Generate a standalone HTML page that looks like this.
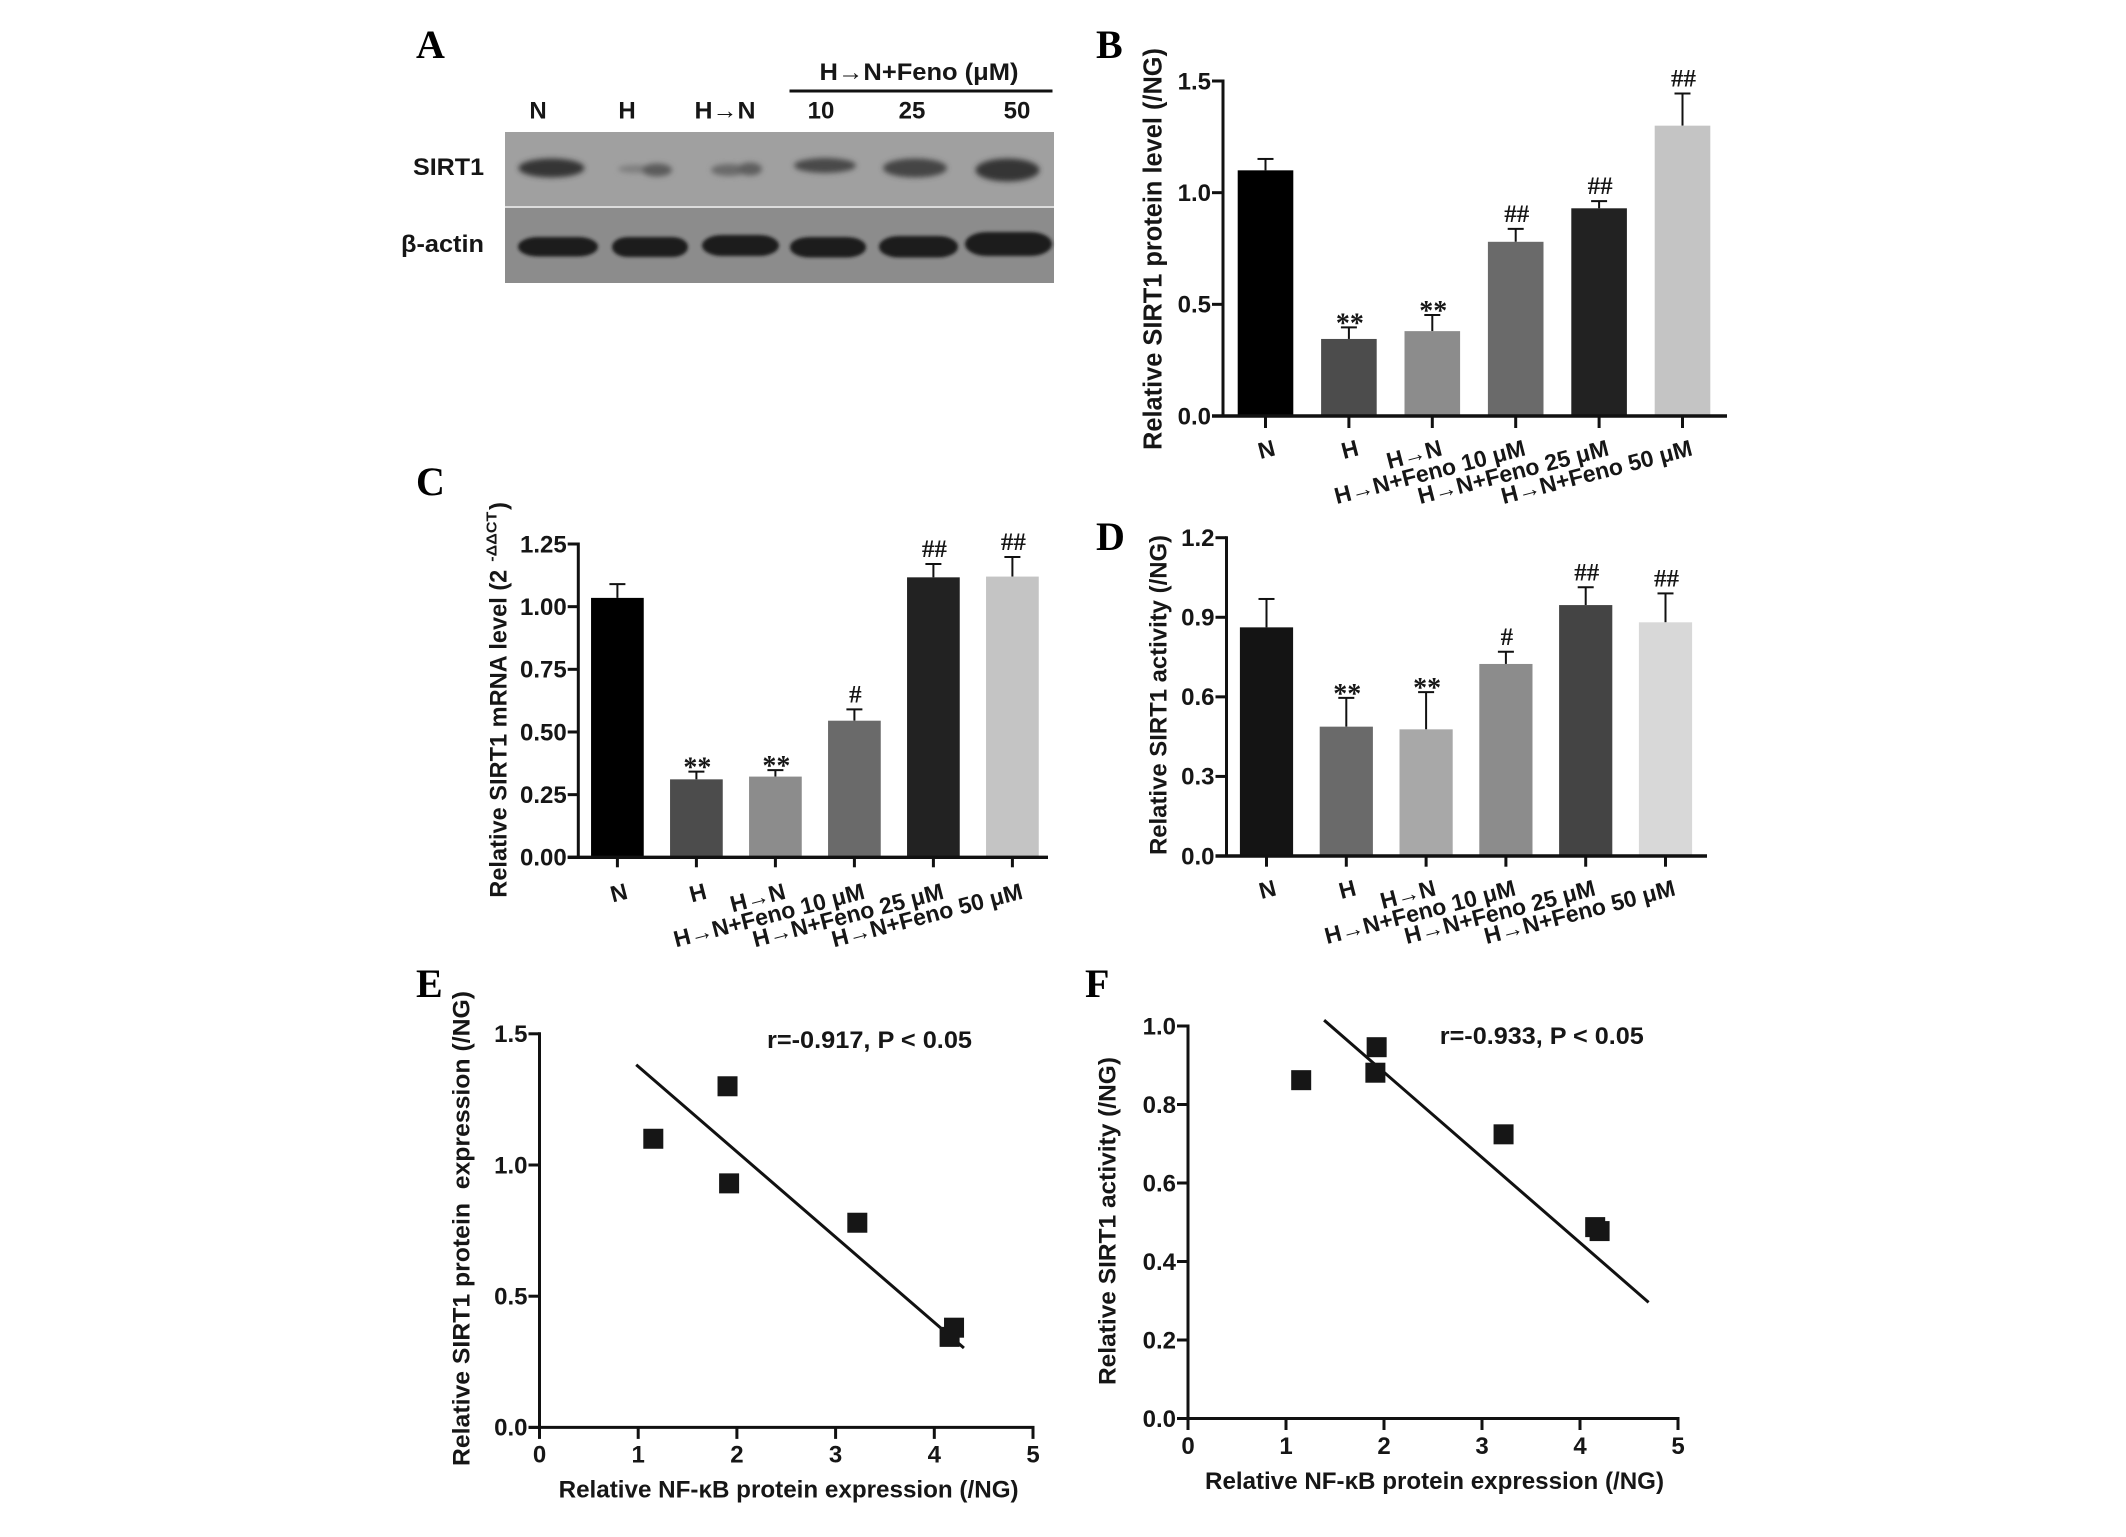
<!DOCTYPE html>
<html lang="en">
<head>
<meta charset="utf-8">
<title>SIRT1 expression and activity figure</title>
<style>
html,body{margin:0;padding:0;background:#fff;}
svg{display:block;}
text{font-family:"Liberation Sans",Arial,sans-serif;font-weight:bold;fill:#161616;white-space:pre;}
.serif{font-family:"Liberation Serif","Times New Roman",serif;}
.letter{font-family:"Liberation Serif","Times New Roman",serif;font-weight:bold;font-size:40px;fill:#000;}
</style>
</head>
<body>
<svg id="figure" xmlns="http://www.w3.org/2000/svg" width="2126" height="1537" viewBox="0 0 2126 1537">
  <defs>
    <filter id="soft" x="-30%" y="-60%" width="160%" height="220%"><feGaussianBlur stdDeviation="2.6"/></filter>
    <filter id="softer" x="-20%" y="-40%" width="140%" height="180%"><feGaussianBlur stdDeviation="1.5"/></filter>
  </defs>
  <rect x="0" y="0" width="2126" height="1537" fill="#fff"/>

  <text class="letter" x="416" y="58">A</text>
  <text class="letter" x="1096" y="58">B</text>
  <text class="letter" x="416" y="495">C</text>
  <text class="letter" x="1096" y="550">D</text>
  <text class="letter" x="416" y="997">E</text>
  <text class="letter" x="1085" y="997">F</text>

  <g>
    <text x="819.5" y="80" font-size="24" textLength="199" lengthAdjust="spacingAndGlyphs">H→N+Feno (μM)</text>
    <rect x="789.5" y="89.5" width="263" height="3" fill="#111"/>
    <text x="538" y="118.5" font-size="24" text-anchor="middle">N</text>
    <text x="627" y="118.5" font-size="24" text-anchor="middle">H</text>
    <text x="694.5" y="118.5" font-size="24" textLength="61" lengthAdjust="spacingAndGlyphs">H→N</text>
    <text x="821" y="118.5" font-size="24" text-anchor="middle">10</text>
    <text x="912" y="118.5" font-size="24" text-anchor="middle">25</text>
    <text x="1017" y="118.5" font-size="24" text-anchor="middle">50</text>
    <text x="413" y="175" font-size="24" textLength="71" lengthAdjust="spacingAndGlyphs">SIRT1</text>
    <text x="401" y="252" font-size="24" textLength="83" lengthAdjust="spacingAndGlyphs">β-actin</text>

    <rect x="505" y="132" width="549" height="74" fill="#a0a0a0"/>
    <rect x="505" y="208" width="549" height="75" fill="#8c8c8c"/>
    <rect x="505" y="206" width="549" height="2" fill="#dcdcdc"/>
    <g filter="url(#soft)">
      <ellipse cx="551.5" cy="168" rx="33" ry="9.5" fill="#363636"/>
      <ellipse cx="636" cy="169" rx="18" ry="4" fill="#7f7f7f"/>
      <ellipse cx="657" cy="170" rx="15" ry="6.5" fill="#5c5c5c"/>
      <ellipse cx="729" cy="170" rx="18" ry="6" fill="#6a6a6a"/>
      <ellipse cx="750" cy="169" rx="12" ry="6.5" fill="#5e5e5e"/>
      <ellipse cx="825" cy="165.5" rx="31" ry="7.5" fill="#484848"/>
      <ellipse cx="915" cy="168" rx="32" ry="9.5" fill="#444444"/>
      <ellipse cx="1007.5" cy="170" rx="32" ry="11.5" fill="#363636"/>
    </g>
    <g filter="url(#softer)" fill="#1c1c1c">
      <rect x="518" y="237" width="80" height="19.5" rx="20" ry="9.7"/>
      <rect x="612" y="237" width="76" height="20" rx="16" ry="10"/>
      <rect x="702" y="235" width="77" height="21" rx="20" ry="10.5"/>
      <rect x="790" y="237" width="76" height="20.5" rx="20" ry="10"/>
      <rect x="879" y="236" width="79" height="21.5" rx="20" ry="10.5"/>
      <rect x="965" y="232" width="87" height="24" rx="22" ry="12"/>
    </g>
  </g>

  <text transform="translate(1161.6 450) rotate(-90)" font-size="25.5" textLength="402" lengthAdjust="spacingAndGlyphs">Relative SIRT1 protein level (/NG)</text>

  <g>
    <text transform="translate(506.5 897.7) rotate(-90)" font-size="24" textLength="328" lengthAdjust="spacingAndGlyphs">Relative SIRT1 mRNA level (2</text>
    <text transform="translate(496.7 561.7) rotate(-90)" font-size="15" textLength="50" lengthAdjust="spacingAndGlyphs">-ΔΔCT</text>
    <text transform="translate(506.5 510) rotate(-90)" font-size="24">)</text>
  </g>

  <text transform="translate(1166.7 855) rotate(-90)" font-size="24" textLength="320" lengthAdjust="spacingAndGlyphs">Relative SIRT1 activity (/NG)</text>

  <text transform="translate(469.3 1466) rotate(-90)" font-size="24.5" textLength="475" lengthAdjust="spacingAndGlyphs">Relative SIRT1 protein  expression (/NG)</text>
  <text x="558.6" y="1497.3" font-size="24" textLength="460" lengthAdjust="spacingAndGlyphs">Relative NF-κB protein expression (/NG)</text>
  <text x="767" y="1048" font-size="24" textLength="205" lengthAdjust="spacingAndGlyphs">r=-0.917, P &lt; 0.05</text>

  <text transform="translate(1115.7 1385) rotate(-90)" font-size="24.5" textLength="328" lengthAdjust="spacingAndGlyphs">Relative SIRT1 activity (/NG)</text>
  <text x="1205" y="1489" font-size="24" textLength="459" lengthAdjust="spacingAndGlyphs">Relative NF-κB protein expression (/NG)</text>
  <text x="1439.8" y="1044" font-size="24" textLength="204" lengthAdjust="spacingAndGlyphs">r=-0.933, P &lt; 0.05</text>
</svg>

<script>
const categories = ['N', 'H', 'H→N', 'H→N+Feno 10 μM', 'H→N+Feno 25 μM', 'H→N+Feno 50 μM'];

const bTicks = ['0.0', '0.5', '1.0', '1.5'];
const bValues = [1.10, 0.345, 0.38, 0.78, 0.93, 1.30];
const bErrorTops = [1.151, 0.397, 0.452, 0.838, 0.962, 1.444];
const bMarks = ['', '**', '**', '##', '##', '##'];

const cTicks = ['0.00', '0.25', '0.50', '0.75', '1.00', '1.25'];
const cValues = [1.035, 0.311, 0.322, 0.545, 1.117, 1.12];
const cErrorTops = [1.09, 0.342, 0.348, 0.59, 1.17, 1.198];
const cMarks = ['', '**', '**', '#', '##', '##'];

const dTicks = ['0.0', '0.3', '0.6', '0.9', '1.2'];
const dValues = [0.862, 0.4876, 0.4775, 0.724, 0.946, 0.881];
const dErrorTops = [0.969, 0.596, 0.618, 0.770, 1.013, 0.990];
const dMarks = ['', '**', '**', '#', '##', '##'];

const scatterXTicks = ['0', '1', '2', '3', '4', '5'];

const eYTicks = ['0.0', '0.5', '1.0', '1.5'];
const eXValues = [1.153, 1.905, 1.921, 3.22, 4.2, 4.155];
const eYValues = [1.10, 1.30, 0.93, 0.78, 0.38, 0.345];
const eFitX = [0.98, 4.30];
const eFitY = [1.382, 0.3025];

const fYTicks = ['0.0', '0.2', '0.4', '0.6', '0.8', '1.0'];
const fXValues = [1.155, 1.925, 1.912, 3.22, 4.155, 4.2];
const fYValues = [0.862, 0.946, 0.881, 0.724, 0.4876, 0.4775];
const fFitX = [1.389, 4.70];
const fFitY = [1.0148, 0.296];

const NS = 'http://www.w3.org/2000/svg';
const figure = document.getElementById('figure');

function linearScale(d0, d1, r0, r1) {
  return function (v) { return r0 + (v - d0) * (r1 - r0) / (d1 - d0); };
}
function addGroup(parent) {
  const g = document.createElementNS(NS, 'g');
  parent.appendChild(g);
  return g;
}
function addLine(parent, x1, y1, x2, y2, width) {
  const l = document.createElementNS(NS, 'line');
  l.setAttribute('x1', x1);
  l.setAttribute('y1', y1);
  l.setAttribute('x2', x2);
  l.setAttribute('y2', y2);
  l.setAttribute('stroke', '#111');
  l.setAttribute('stroke-width', width);
  parent.appendChild(l);
  return l;
}
function addRect(parent, x, y, w, h, fill) {
  const r = document.createElementNS(NS, 'rect');
  r.setAttribute('x', x);
  r.setAttribute('y', y);
  r.setAttribute('width', w);
  r.setAttribute('height', h);
  r.setAttribute('fill', fill);
  parent.appendChild(r);
  return r;
}
function addText(parent, str, x, y, size, anchor) {
  const t = document.createElementNS(NS, 'text');
  t.setAttribute('x', x);
  t.setAttribute('y', y);
  t.setAttribute('font-size', size);
  t.setAttribute('text-anchor', anchor);
  t.textContent = str;
  parent.appendChild(t);
  return t;
}

function drawYAxis(g, yScale, ticks, cfg) {
  const axis = addLine(g, cfg.axisX, yScale(parseFloat(ticks[ticks.length - 1])) - 1.5, cfg.axisX, cfg.y0 + 1.5, 3);
  
  
  ticks.forEach(function (label) {
    const v = parseFloat(label);
    const tick = addLine(g, cfg.axisX - cfg.yTickLen, yScale(v), cfg.axisX, yScale(v), 3);
    
    
    const text = addText(g, label, cfg.axisX - cfg.yTickLen - 1, yScale(v) + 8.3, 24, 'end');
    
    
  });
}

function drawBarPanel(name, values, errorTops, marks, ticks, fills, cfg) {
  const g = addGroup(figure);
  
  
  const yTop = parseFloat(ticks[ticks.length - 1]);
  const yScale = linearScale(0, yTop, cfg.y0, cfg.yTop);
  const xScale = function (i) { return cfg.x0 + cfg.step * i; };

  values.forEach(function (v, i) {
    const cx = xScale(i);
    const err = addLine(g, cx, yScale(v), cx, yScale(errorTops[i]), 2);
    
    
    const cap = addLine(g, cx - 8, yScale(errorTops[i]), cx + 8, yScale(errorTops[i]), 2);
    
    
    const bar = addRect(g, cx - cfg.barW / 2, yScale(v), cfg.barW, cfg.y0 - yScale(v), fills[i]);
    
    
    if (marks[i]) {
      const isStar = marks[i] === '**';
      const mark = addText(g, marks[i], cx + 1, yScale(errorTops[i]) + (isStar ? 5 : -7), isStar ? 28 : 25, 'middle');
      mark.setAttribute('class', 'serif');
      
      
    }
    const tick = addLine(g, cx, cfg.y0, cx, cfg.y0 + cfg.xTickLen, 3);
    
    
    const label = addText(g, categories[i], 0, 0, 23, 'end');
    label.setAttribute('transform', 'translate(' + (cx + cfg.labelDx) + ' ' + (cfg.y0 + cfg.labelDy) + ') rotate(-14.5)');
    
    
  });

  const xAxis = addLine(g, cfg.axisX - cfg.yTickLen, cfg.y0, cfg.xEnd, cfg.y0, 3.4);
  
  
  drawYAxis(g, yScale, ticks, cfg);
}

function drawScatterPanel(name, xs, ys, fitX, fitY, yTicks, cfg) {
  const g = addGroup(figure);
  
  
  const yTop = parseFloat(yTicks[yTicks.length - 1]);
  const yScale = linearScale(0, yTop, cfg.y0, cfg.yTop);
  const xMax = parseFloat(scatterXTicks[scatterXTicks.length - 1]);
  const xScale = linearScale(0, xMax, cfg.axisX, cfg.xEnd);

  const fit = addLine(g, xScale(fitX[0]), yScale(fitY[0]), xScale(fitX[1]), yScale(fitY[1]), 3);
  
  
  xs.forEach(function (xv, i) {
    const pt = addRect(g, xScale(xv) - 10, yScale(ys[i]) - 10, 20, 20, '#161616');
    
    
  });

  const xAxis = addLine(g, cfg.axisX - cfg.yTickLen, cfg.y0, cfg.xEnd + 1.5, cfg.y0, 3);
  
  
  scatterXTicks.forEach(function (label) {
    const px = xScale(parseFloat(label));
    const tick = addLine(g, px, cfg.y0, px, cfg.y0 + 11.5, 3);
    
    
    const text = addText(g, label, px, cfg.xLabelY, 24, 'middle');
    
    
  });
  drawYAxis(g, yScale, yTicks, cfg);
}

drawBarPanel('panel-b-protein-chart', bValues, bErrorTops, bMarks, bTicks,
  ['#000000', '#4c4c4c', '#8c8c8c', '#6a6a6a', '#222222', '#c4c4c4'],
  { x0: 1265.5, step: 83.4, barW: 55.6, axisX: 1223, y0: 416, yTop: 81, xEnd: 1727, yTickLen: 11, xTickLen: 12, labelDx: 11, labelDy: 39 });

drawBarPanel('panel-c-mrna-chart', cValues, cErrorTops, cMarks, cTicks,
  ['#000000', '#4c4c4c', '#8c8c8c', '#6a6a6a', '#222222', '#c4c4c4'],
  { x0: 617.4, step: 79, barW: 52.7, axisX: 578.3, y0: 857.3, yTop: 544, xEnd: 1048, yTickLen: 10.6, xTickLen: 10, labelDx: 11.5, labelDy: 41 });

drawBarPanel('panel-d-activity-chart', dValues, dErrorTops, dMarks, dTicks,
  ['#141414', '#6a6a6a', '#a8a8a8', '#8c8c8c', '#444444', '#d8d8d8'],
  { x0: 1266.5, step: 79.8, barW: 53.2, axisX: 1226.5, y0: 856, yTop: 537.7, xEnd: 1707, yTickLen: 11, xTickLen: 10.7, labelDx: 11, labelDy: 39 });

drawScatterPanel('panel-e-protein-correlation', eXValues, eYValues, eFitX, eFitY, eYTicks,
  { axisX: 539.5, xEnd: 1033, y0: 1427.4, yTop: 1033.8, yTickLen: 11, xLabelY: 1462.5 });

drawScatterPanel('panel-f-activity-correlation', fXValues, fYValues, fFitX, fFitY, fYTicks,
  { axisX: 1188, xEnd: 1678, y0: 1418.5, yTop: 1026, yTickLen: 11, xLabelY: 1454 });
</script>
</body>
</html>
